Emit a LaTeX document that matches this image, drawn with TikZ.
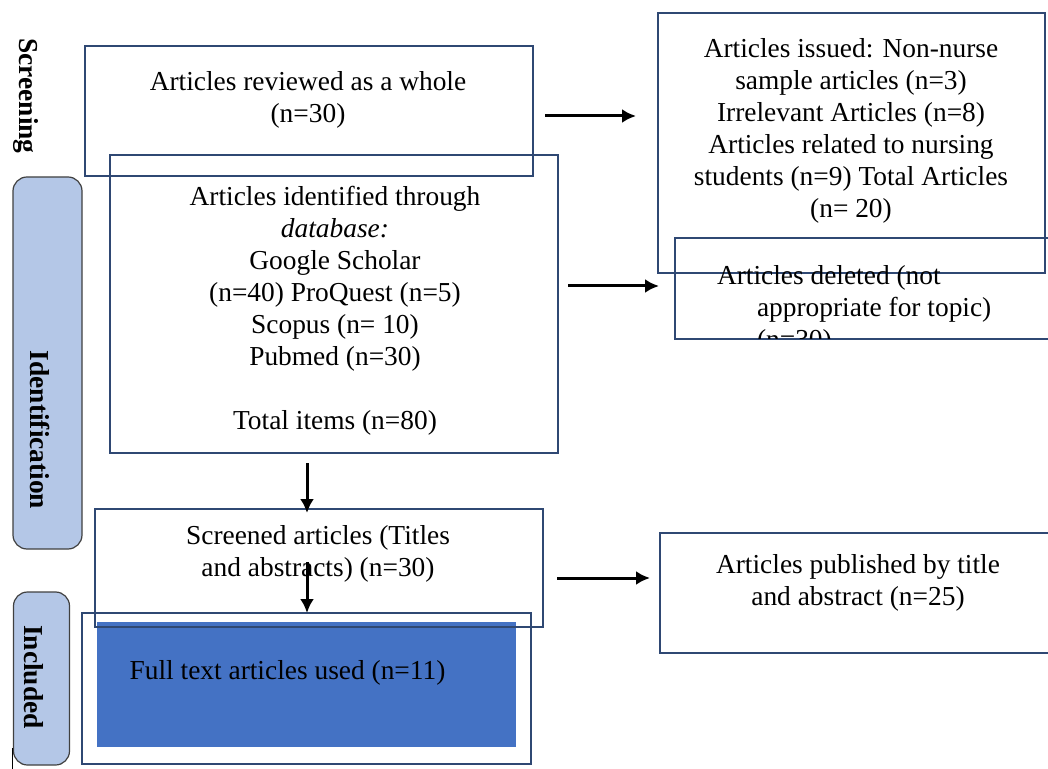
\documentclass[tikz,border=0pt]{standalone}
\usepackage{fontspec}
\setmainfont{Liberation Serif}
\usetikzlibrary{positioning,arrows.meta}

\definecolor{boxline}{RGB}{47,72,115}
\definecolor{stagefill}{HTML}{B4C7E7}
\definecolor{fullfill}{HTML}{4472C4}

\begin{document}
\begin{tikzpicture}[x=0.5pt,y=-0.5pt,
		every node/.style={font=\fontsize{13.7}{16}\selectfont,inner sep=0pt,outer sep=0pt},
		box/.style={draw=boxline,line width=0.7pt,rectangle},
		txt/.style={align=center},
		stage/.style={draw=black!75,fill=stagefill,rounded corners=7pt,line width=0.6pt},
		stagetxt/.style={font=\fontsize{13.7}{16}\selectfont\bfseries,rotate=-90},
		arr/.style={-{Latex[length=7pt,width=7pt]},line width=1.5pt}]
	\useasboundingbox (0,0) rectangle (1048,769);

	% stage labels
	\node (identstage) [stage,minimum width=34.5pt,minimum height=186pt] at (47.5,363) {};
	\node (inclstage)  [stage,minimum width=28pt,minimum height=86.5pt] at (41.5,678.5) {};
	\node (screentxt)  [stagetxt] at (26,96)  {Screening};
	\node (identtxt)   [stagetxt] at (40,430) {Identification};
	\node (incltxt)    [stagetxt] at (34,677) {Included};
	\coordinate (straytop) at (12.5,748);
	\coordinate (straybot) at (12.5,769);
	\draw[line width=0.6pt] (straytop) -- (straybot);

	% boxes
	\node (fullbox)    [box,minimum width=224.5pt,minimum height=75.5pt] at (306.5,688.5) {};
	\node (fullfill)   [fill=fullfill,minimum width=209.5pt,minimum height=62.5pt] at (306.5,684.5) {};
	\node (reviewed)   [box,minimum width=224pt,minimum height=65pt]   at (309,111)   {};
	\node (identified) [box,minimum width=224pt,minimum height=149pt]  at (334,304)   {};
	\node (issued)     [box,minimum width=193.5pt,minimum height=130pt] at (851.5,143) {};
	\node (deleted)    [box,minimum width=190.5pt,minimum height=50.5pt] at (865.5,288.5) {};
	\node (screened)   [box,minimum width=224pt,minimum height=59pt]   at (319,568)   {};
	\node (published)  [box,minimum width=198pt,minimum height=60pt]   at (858,593)   {};

	% texts
	\node (reviewedtxt)   [txt] at (308,99.5)  {Articles reviewed as a whole\\(n=30)};
	\node (identifiedtxt) [txt] at (335,310.5) {Articles identified through\\\textit{database:}\\Google Scholar\\(n=40) ProQuest (n=5)\\Scopus (n= 10)\\Pubmed (n=30)\\[16pt]Total items (n=80)};
	\node (issuedtxt)     [txt] at (851,131)   {Articles issued: Non-nurse\\sample articles (n=3)\\Irrelevant Articles (n=8)\\Articles related to nursing\\students (n=9) Total Articles\\(n= 20)};
	\begin{scope}
		\clip (deleted.north west) rectangle (deleted.south east);
		\node (deletedtxt) [align=left,anchor=north west] at (757,265) {\hspace*{-20pt}Articles deleted (not\\appropriate for topic)\\(n=30)};
	\end{scope}
	\node (screenedtxt)   [txt] at (318,553.5) {Screened articles (Titles\\and abstracts) (n=30)};
	\node (publishedtxt)  [txt] at (858,583)   {Articles published by title\\and abstract (n=25)};
	\node (fulltxt)       [txt] at (287.5,673) {Full text articles used (n=11)};

	% arrows
	\coordinate (a1s) at (545,116);  \coordinate (a1e) at (636,116);
	\coordinate (a2s) at (568,286);  \coordinate (a2e) at (659,286);
	\coordinate (a3s) at (307,463);  \coordinate (a3e) at (307,513);
	\coordinate (a4s) at (307,562);  \coordinate (a4e) at (307,613);
	\coordinate (a5s) at (557,578);  \coordinate (a5e) at (650,578);
	\draw[arr] (a1s) -- (a1e);
	\draw[arr] (a2s) -- (a2e);
	\draw[arr] (a3s) -- (a3e);
	\draw[arr] (a4s) -- (a4e);
	\draw[arr] (a5s) -- (a5e);
\end{tikzpicture}
\end{document}
